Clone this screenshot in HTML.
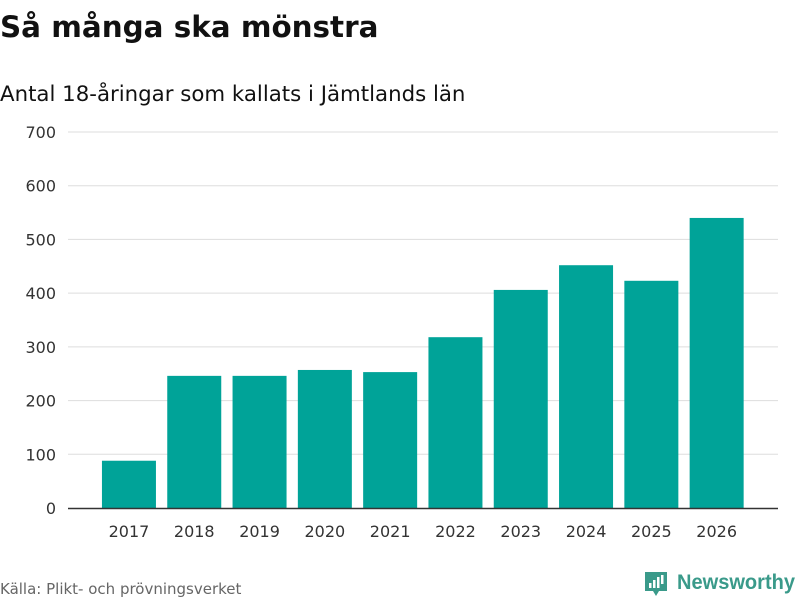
<!DOCTYPE html>
<html><head><meta charset="utf-8"><style>
body{margin:0;width:800px;height:600px;background:#fff;font-family:"DejaVu Sans","Liberation Sans",sans-serif;overflow:hidden}
</style></head><body>
<svg width="800" height="600" xmlns="http://www.w3.org/2000/svg">
<text x="0" y="37" font-size="29.4" font-weight="bold" fill="#111">Så många ska mönstra</text>
<text x="0" y="101" font-size="21.3" fill="#111">Antal 18-åringar som kallats i Jämtlands län</text>
<g id="grid"></g><g id="bars"></g><g id="xt"></g>
<line x1="68" x2="778" y1="508.5" y2="508.5" stroke="#333" stroke-width="1.5"/>
<text x="0" y="594" font-size="15" fill="#666">Källa: Plikt- och prövningsverket</text>
<g>
<path d="M645 572 h22 v19 h-8 l-3 5 l-3 -5 h-8 z" fill="#3a9a8a"/>
<rect x="649" y="583" width="2.5" height="5" fill="#fff"/><rect x="653" y="580" width="2.5" height="8" fill="#fff"/><rect x="657" y="577" width="2.5" height="11" fill="#fff"/><rect x="661" y="575" width="2.5" height="9" fill="#fff"/>
<text x="677" y="589" font-size="21" font-weight="bold" fill="#3a9a8a" font-family="Liberation Sans, sans-serif" textLength="118" lengthAdjust="spacingAndGlyphs">Newsworthy</text>
</g>
</svg>
<script>
const categories=["2017","2018","2019","2020","2021","2022","2023","2024","2025","2026"];
const values=[88,246,246,257,253,318,406,452,423,540];
const yTicks=[0,100,200,300,400,500,600,700];
const NS="http://www.w3.org/2000/svg";
const y=v=>508-v*(376/700);
const band=65.3,x0=96.3,bw=54;
const x=i=>x0+i*band+(band-bw)/2;
function mk(t,a,p){const e=document.createElementNS(NS,t);for(const k in a)e.setAttribute(k,a[k]);p.appendChild(e);return e;}
const g=document.getElementById('grid'),b=document.getElementById('bars'),xt=document.getElementById('xt');
yTicks.forEach(v=>{
 if(v>0){const l=mk('line',{x1:68,x2:778,y1:y(v),y2:y(v),stroke:'#ddd','stroke-width':1},g);
 
 }
 const t=mk('text',{x:56,y:y(v)+6,'font-size':16,fill:'#333','text-anchor':'end'},g);t.textContent=v;
 
 
});
categories.forEach((c,i)=>{
 const r=mk('rect',{x:x(i),y:y(values[i]),width:bw,height:508-y(values[i]),fill:'#00a398'},b);
 
 
 const t=mk('text',{x:x(i)+bw/2,y:537,'font-size':16,fill:'#333','text-anchor':'middle'},xt);t.textContent=c;
 
 
});
</script>
</body></html>
